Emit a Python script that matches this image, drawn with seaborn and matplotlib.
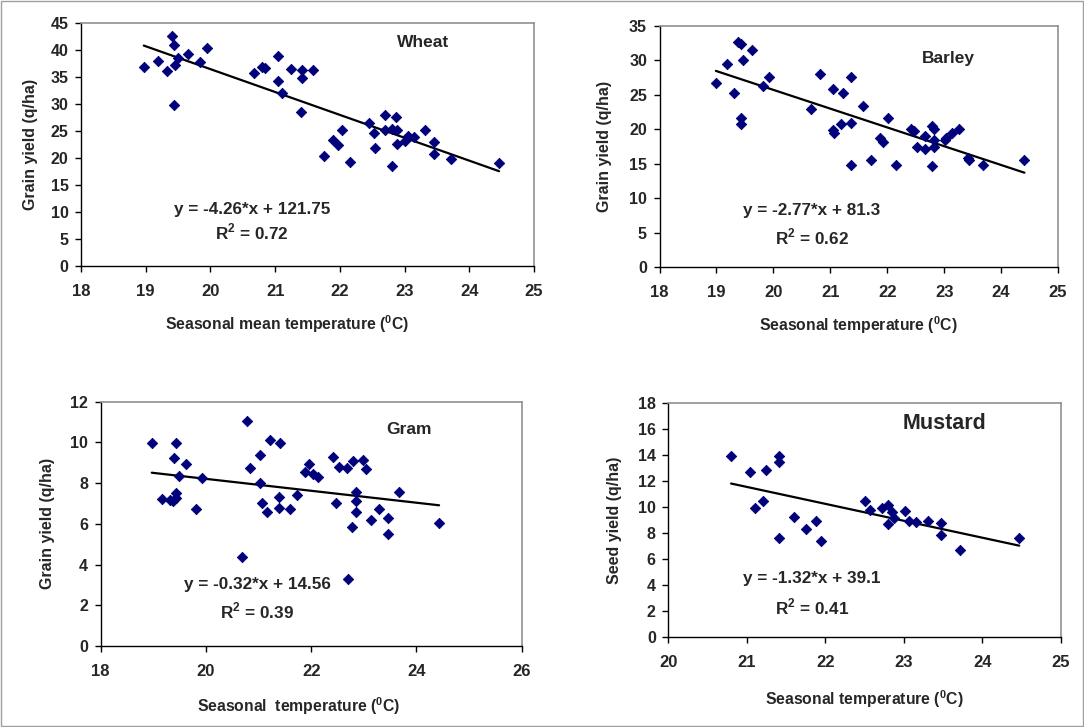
import numpy as np
import pandas as pd
import seaborn as sns
import matplotlib.pyplot as plt
from matplotlib.patches import Rectangle

# data
wheat_temp = [18.97, 19.19, 19.33, 19.40, 19.44, 19.45, 19.50, 19.44, 19.65, 19.84, 19.95,
              20.68, 20.79, 20.84, 21.04, 21.04, 21.10, 21.24, 21.42, 21.42, 21.40, 21.59,
              21.75, 21.90, 21.97, 22.04, 22.16, 22.45, 22.52, 22.55, 22.69, 22.69, 22.81,
              22.86, 22.88, 22.81, 22.88, 23.00, 23.05, 23.15, 23.32, 23.46, 23.46, 23.71, 24.46]
wheat_yield = [36.8, 38.0, 36.1, 42.6, 40.9, 37.2, 38.6, 29.8, 39.2, 37.8, 40.3,
               35.7, 36.8, 36.6, 38.9, 34.3, 32.1, 36.5, 36.3, 34.8, 28.6, 36.3,
               20.4, 23.3, 22.4, 25.1, 19.2, 26.5, 24.6, 21.8, 28.0, 25.2, 25.3,
               27.5, 25.1, 18.6, 22.5, 23.2, 24.1, 23.9, 25.1, 22.9, 20.7, 19.8, 19.1]

barley_temp = [18.99, 19.18, 19.31, 19.38, 19.43, 19.47, 19.43, 19.43, 19.63, 19.82, 19.93,
               20.67, 20.82, 21.04, 21.22, 21.36, 21.04, 21.06, 21.18, 21.36, 21.36, 21.58,
               21.71, 21.87, 21.93, 22.01, 22.15, 22.42, 22.47, 22.53, 22.66, 22.66, 22.79,
               22.83, 22.83, 22.83, 22.78, 23.01, 23.04, 23.13, 23.26, 23.42, 23.43, 23.68, 24.41]
barley_yield = [26.7, 29.5, 25.3, 32.6, 32.4, 30.0, 21.7, 20.7, 31.5, 26.2, 27.5,
                22.9, 28.0, 25.9, 25.2, 27.5, 19.9, 19.5, 20.7, 20.9, 14.8, 23.4,
                15.6, 18.8, 18.2, 21.7, 14.8, 20.1, 19.7, 17.5, 19.0, 17.2, 20.4,
                20.1, 18.4, 17.4, 14.7, 18.4, 18.8, 19.5, 20.0, 15.8, 15.5, 14.8, 15.6]

gram_temp = [18.97, 19.17, 19.32, 19.38, 19.44, 19.44, 19.40, 19.43, 19.49, 19.63, 19.81, 19.92,
             20.69, 20.78, 20.84, 21.03, 21.03, 21.06, 21.16, 21.22, 21.40, 21.38, 21.38, 21.59,
             21.73, 21.88, 21.95, 22.04, 22.13, 22.41, 22.53, 22.68, 22.79, 22.99, 23.04, 22.47,
             22.85, 22.85, 22.85, 22.78, 23.13, 23.29, 23.45, 23.45, 23.67, 24.43, 22.70]
gram_yield = [9.96, 7.21, 7.17, 7.12, 7.26, 7.50, 9.22, 9.96, 8.35, 8.94, 6.72, 8.27,
              4.39, 11.06, 8.76, 9.39, 8.03, 7.01, 6.60, 10.12, 9.96, 7.31, 6.80, 6.73,
              7.42, 8.57, 8.94, 8.45, 8.32, 9.27, 8.81, 8.73, 9.09, 9.14, 8.70, 7.04,
              7.58, 7.14, 6.57, 5.86, 6.19, 6.73, 6.27, 5.50, 7.55, 6.06, 3.29]

mustard_temp = [20.80, 21.04, 21.25, 21.41, 21.41, 21.10, 21.20, 21.41, 21.60, 21.76, 21.88,
                21.95, 22.51, 22.57, 22.72, 22.80, 22.85, 22.80, 22.87, 23.02, 23.07, 23.16,
                23.31, 23.47, 23.47, 23.72, 24.47]
mustard_yield = [13.97, 12.74, 12.87, 13.97, 13.46, 9.97, 10.48, 7.66, 9.28, 8.30, 8.95,
                 7.43, 10.51, 9.79, 9.97, 10.18, 9.66, 8.72, 9.15, 9.74, 8.97, 8.85,
                 8.97, 8.82, 7.87, 6.72, 7.66]

crops = ['Wheat', 'Barley', 'Gram', 'Mustard']
equations = ['y = -4.26*x + 121.75', 'y = -2.77*x + 81.3', 'y = -0.32*x + 14.56', 'y = -1.32*x + 39.1']
r2_values = ['0.72', '0.62', '0.39', '0.41']
xlabels = ['Seasonal mean temperature ($^{\\mathbf{0}}$C)', 'Seasonal temperature ($^{\\mathbf{0}}$C)',
           'Seasonal  temperature ($^{\\mathbf{0}}$C)', 'Seasonal temperature ($^{\\mathbf{0}}$C)']
ylabels = ['Grain yield (q/ha)', 'Grain yield (q/ha)', 'Grain yield (q/ha)', 'Seed yield (q/ha)']

sns.set_style('white')
plt.rcParams['font.family'] = ['Liberation Sans', 'DejaVu Sans']
plt.rcParams['font.weight'] = 'bold'
plt.rcParams['mathtext.fontset'] = 'custom'
plt.rcParams['mathtext.bf'] = 'Liberation Sans:bold'
plt.rcParams['mathtext.rm'] = 'Liberation Sans:bold'

W, H = 1084, 727
fig = plt.figure(figsize=(W / 100, H / 100), dpi=100)
fig.patches.append(Rectangle((0.001, 0.001), 0.998, 0.997, transform=fig.transFigure,
                             fill=False, edgecolor='#a0a0a0', linewidth=1))

# plot areas in pixels: left, right, top, bottom
areas = [(81, 534, 23, 266), (659.5, 1058, 25.7, 267.3),
         (100.7, 521.7, 401.7, 646), (668.3, 1060.8, 403.3, 637.3)]
xlims = [(18, 25, 1), (18, 25, 1), (18, 26, 2), (20, 25, 1)]
ylims = [(0, 45, 5), (0, 35, 5), (0, 12, 2), (0, 18, 2)]
title_pos = [(23.29, 41.4), (23.07, 30.3), (23.85, 10.65), (23.52, 16.46)]
title_size = [12.5, 12.5, 12.5, 15.5]
eq_pos = [(20.64, 10.4, 6.3), (20.68, 8.3, 4.4), (20.97, 3.0, 1.7), (21.83, 4.5, 2.35)]
xlabel_cx = [0.456, 0.5, 0.47, 0.5]
xlabel_off = [58, 58, 60, 62]   # px below the axis
ylabel_off = [50, 55, 53, 54]   # px left of the axis

data = [(wheat_temp, wheat_yield), (barley_temp, barley_yield),
        (gram_temp, gram_yield), (mustard_temp, mustard_yield)]

for i in range(4):
    l, r, t, b = areas[i]
    wpx, hpx = r - l, b - t
    ax = fig.add_axes([l / W, 1 - b / H, wpx / W, hpx / H])
    df = pd.DataFrame({'temp': data[i][0], 'yield': data[i][1]})
    sns.scatterplot(data=df, x='temp', y='yield', marker='D', s=28, color='#00007a',
                    edgecolor='#00007a', linewidth=0.6, ax=ax, zorder=3)
    sns.regplot(data=df, x='temp', y='yield', scatter=False, ci=None, ax=ax,
                line_kws={'color': 'black', 'linewidth': 1.6})
    x0, x1, xs = xlims[i]
    y0, y1, ys = ylims[i]
    ax.set_xlim(x0, x1)
    ax.set_ylim(y0, y1)
    ax.set_xticks(np.arange(x0, x1 + 0.01, xs))
    ax.set_yticks(np.arange(y0, y1 + 0.01, ys))
    ax.tick_params(direction='out', length=4, width=1, color='black', left=True, bottom=True)
    ax.tick_params(axis='x', labelsize=12, pad=9)
    ax.tick_params(axis='y', labelsize=11.5, pad=5)
    for lab in ax.get_xticklabels() + ax.get_yticklabels():
        lab.set_fontweight('bold')
    for s in ['top', 'right']:
        ax.spines[s].set_color('#909090')
        ax.spines[s].set_linewidth(1.2)
    for s in ['left', 'bottom']:
        ax.spines[s].set_color('black')
        ax.spines[s].set_linewidth(1)
    ax.set_xlabel(xlabels[i], fontsize=11.3, fontweight='bold')
    ax.xaxis.label.set_verticalalignment('center')
    ax.xaxis.set_label_coords(xlabel_cx[i], -xlabel_off[i] / hpx)
    ax.set_ylabel(ylabels[i], fontsize=11.5, fontweight='bold')
    ax.yaxis.label.set_verticalalignment('center')
    ax.yaxis.set_label_coords(-ylabel_off[i] / wpx, 0.5)
    ax.text(title_pos[i][0], title_pos[i][1], crops[i], fontsize=title_size[i],
            fontweight='bold', ha='center', va='center')
    ex, ey, ry = eq_pos[i]
    ax.text(ex, ey, equations[i], fontsize=12.3, fontweight='bold', ha='center', va='center')
    ax.text(ex, ry, 'R$^{\\mathbf{2}}$ = ' + r2_values[i], fontsize=12.3, fontweight='bold',
            ha='center', va='center')

plt.savefig('out.png', dpi=100)
